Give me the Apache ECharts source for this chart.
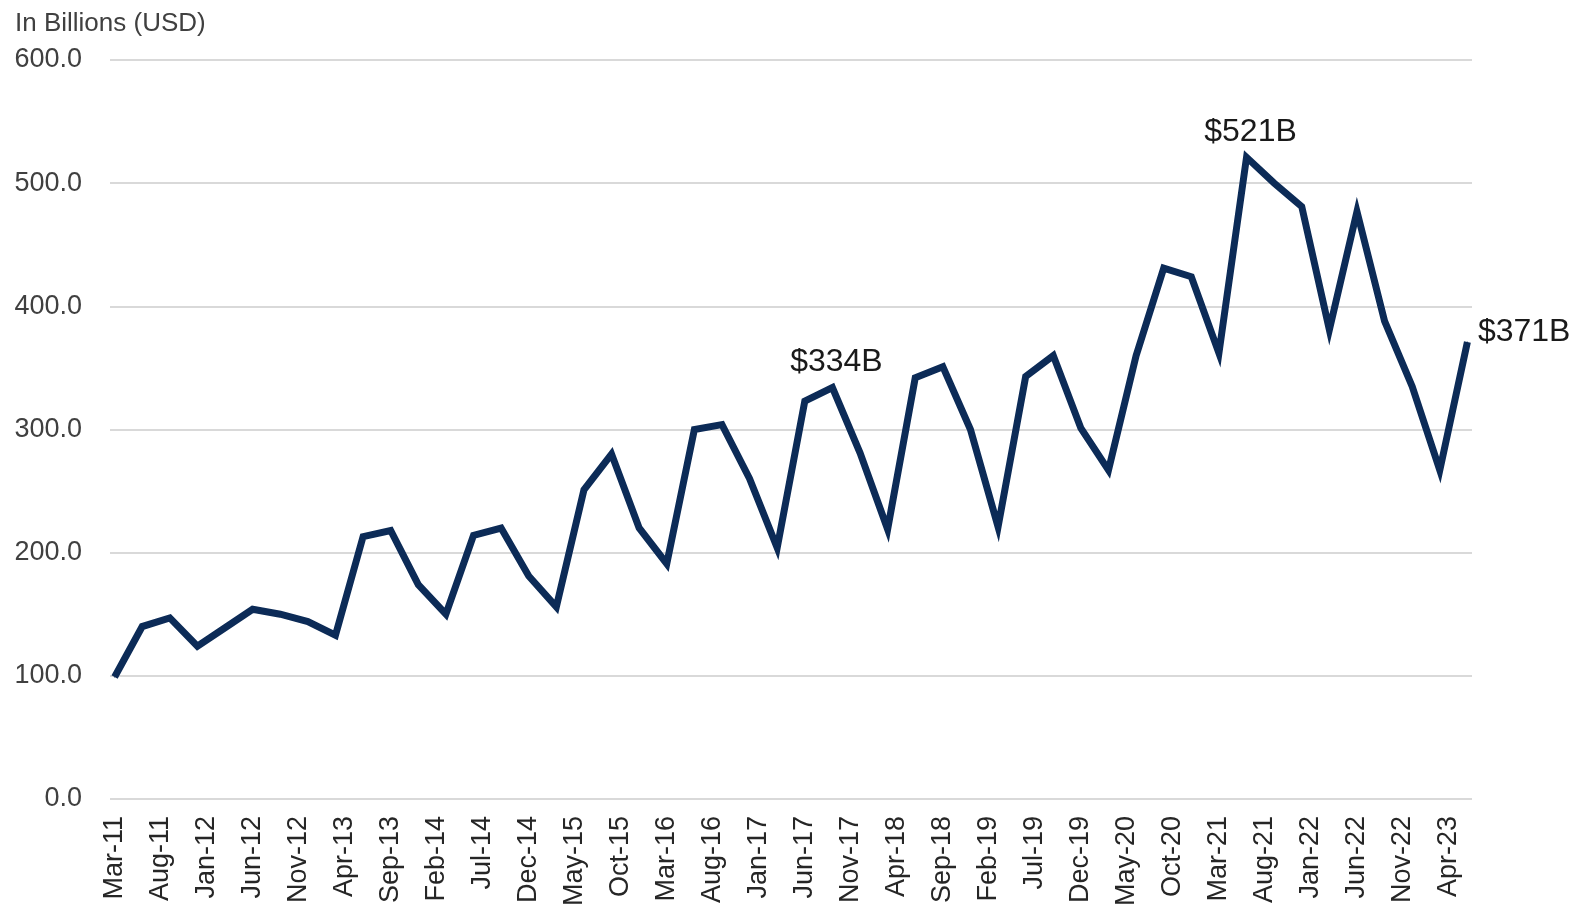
<!DOCTYPE html>
<html>
<head>
<meta charset="utf-8">
<script src="https://cdn.jsdelivr.net/npm/echarts@6/dist/echarts.min.js"></script>
<style>
html,body{margin:0;padding:0;background:#fff;}
#chart{width:1580px;height:909px;}
</style>
</head>
<body>
<div id="chart"></div>
<script>
// ---- Data ----
const monthNames = ['Jan','Feb','Mar','Apr','May','Jun','Jul','Aug','Sep','Oct','Nov','Dec'];
const startYear = 2011, startMonth = 2;   // Mar-11
const monthCount = 148;                    // Mar-11 .. Jun-23
const quarterMonths = [2, 5, 8, 11];       // Mar, Jun, Sep, Dec

// quarterly values, Mar-11 .. Jun-23 (billions USD)
const values = [
  99, 140, 147, 124,      // 2011
  139, 154, 150, 144,     // 2012
  133, 213, 218, 174,     // 2013
  150, 214, 220, 181,     // 2014
  156, 251, 280, 220,     // 2015
  191, 300, 304, 260,     // 2016
  204, 323, 334, 281,     // 2017
  219, 342, 351, 300,     // 2018
  221, 343, 360, 301,     // 2019
  267, 360, 431, 424,     // 2020
  362, 521, 500, 481,     // 2021
  381, 477, 388, 335,     // 2022
  267, 371                // 2023
];
const labelledPoints = ['Sep-17', 'Jun-21', 'Jun-23'];

// ---- Build categories ----
function monthLabel(i) {
  const m = (startMonth + i) % 12;
  const y = startYear + Math.floor((startMonth + i) / 12);
  return monthNames[m] + '-' + String(y % 100).padStart(2, '0');
}
const categories = [];
for (let i = 0; i < monthCount; i++) categories.push(monthLabel(i));
const quarterLabels = categories.filter((c, i) => quarterMonths.includes((startMonth + i) % 12));

const seriesData = quarterLabels.map((q, i) => {
  const item = { value: [q, values[i]] };
  if (labelledPoints.includes(q)) {
    const isLast = i === quarterLabels.length - 1;
    item.label = isLast
      ? { show: true, position: 'right', distance: 10, offset: [0, -10] }
      : { show: true, position: 'top', distance: 9, offset: [4, 0] };
  }
  return item;
});

const font = 'Liberation Sans, Arial, sans-serif';
const lineColor = '#0c2b57';
const chart = echarts.init(document.getElementById('chart'), null, { renderer: 'canvas' });
chart.setOption({
  animation: false,
  backgroundColor: '#ffffff',
  title: {
    text: 'In Billions (USD)',
    left: 10, top: 6,
    textStyle: { fontFamily: font, fontSize: 26, fontWeight: 'normal', color: '#404040' }
  },
  grid: { left: 110, right: 108, top: 60, bottom: 109, containLabel: false },
  xAxis: {
    type: 'category',
    data: categories,
    boundaryGap: true,
    axisLine: { show: false },
    axisTick: { show: false },
    axisLabel: {
      interval: 4, rotate: 90, margin: 17,
      fontFamily: font, fontSize: 27, color: '#262626'
    },
    splitLine: { show: false }
  },
  yAxis: {
    type: 'value',
    min: 0, max: 600, interval: 100,
    axisLine: { show: false },
    axisTick: { show: false },
    axisLabel: {
      margin: 28, fontFamily: font, fontSize: 27, color: '#404040',
      formatter: v => v.toFixed(1)
    },
    splitLine: { lineStyle: { color: '#d9d9d9', width: 2 } }
  },
  series: [{
    type: 'line',
    data: seriesData,
    symbol: 'circle',
    symbolSize: 1,
    showSymbol: true,
    lineStyle: { color: lineColor, width: 7, join: 'miter' },
    itemStyle: { color: lineColor },
    label: {
      show: false,
      fontFamily: font, fontSize: 32, color: '#1a1a1a',
      formatter: p => '$' + p.value[1] + 'B'
    }
  }]
});
</script>
</body>
</html>
